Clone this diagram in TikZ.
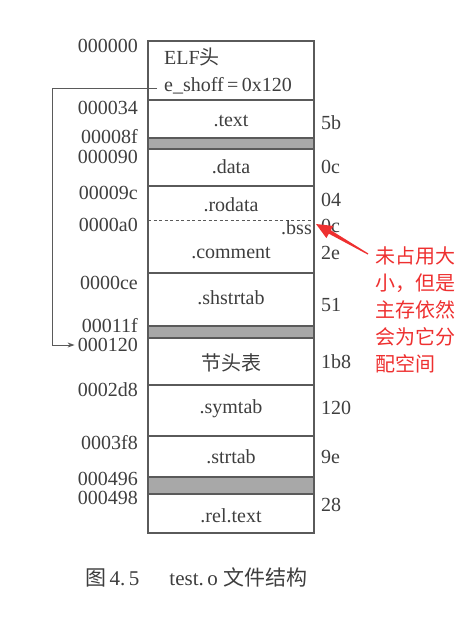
\documentclass[tikz,border=0pt]{standalone}
\usepackage{fontspec}
\setmainfont{Liberation Serif}
\newfontfamily\cjk{Noto Sans CJK SC}
\usetikzlibrary{arrows.meta,calc}
\definecolor{txt}{RGB}{62,62,62}
\definecolor{ln}{RGB}{90,90,90}
\definecolor{band}{RGB}{168,168,168}
\definecolor{note}{RGB}{238,48,48}
\begin{document}
\begin{tikzpicture}[x=1pt,y=-1pt,
  every node/.style={inner sep=0pt,text=txt,font=\fontsize{20}{24}\selectfont},
  addr/.style={anchor=east},
  size/.style={anchor=west},
  sect/.style={anchor=center},
  boxline/.style={draw=ln,line width=1.1pt},
  bandfill/.style={fill=band,draw=ln,line width=1.1pt},
  notetext/.style={text=note,anchor=west,font=\cjk\fontsize{20}{27}\selectfont,align=left}]
\useasboundingbox (0,0) rectangle (466,621);
% box
\draw[boxline] (148,41) rectangle (314,533);
\foreach \y in {100,186,273,385,436} \draw[boxline] (148,\y) -- (314,\y);
\draw[bandfill] (148,138) rectangle (314,149);
\draw[bandfill] (148,326) rectangle (314,338);
\draw[bandfill] (148,477) rectangle (314,494);
\draw[ln,line width=0.8pt,dash pattern=on 3pt off 2.5pt] (148,220) -- (314,220);
% section names
\node[anchor=west] (elf) at (164,57) {ELF{\cjk 头}};
\node[anchor=west] (eshoff) at (164,86) {e\_shoff\,=\,0x120};
\node[sect] (text) at (231,121) {.text};
\node[sect] (data) at (231,167) {.data};
\node[sect] (rodata) at (231,205) {.rodata};
\node[anchor=east] (bss) at (312,228) {.bss};
\node[sect] (comment) at (231,253) {.comment};
\node[sect] (shstrtab) at (231,298) {.shstrtab};
\node[sect] (sht) at (231,363) {\cjk 节头表};
\node[sect] (symtab) at (231,409) {.symtab};
\node[sect] (strtab) at (231,457) {.strtab};
\node[sect] (reltext) at (231,516) {.rel.text};
% addresses
\node[addr] (a000) at (138,46) {000000};
\node[addr] (a034) at (138,108) {000034};
\node[addr] (a08f) at (138,137) {00008f};
\node[addr] (a090) at (138,157) {000090};
\node[addr] (a09c) at (138,193) {00009c};
\node[addr] (a0a0) at (138,225) {0000a0};
\node[addr] (a0ce) at (138,283) {0000ce};
\node[addr] (a11f) at (138,326) {00011f};
\node[addr] (a120) at (138,345) {000120};
\node[addr] (a2d8) at (138,390) {0002d8};
\node[addr] (a3f8) at (138,443) {0003f8};
\node[addr] (a496) at (138,479) {000496};
\node[addr] (a498) at (138,498) {000498};
% sizes
\node[size] (s1) at (321,123) {5b};
\node[size] (s2) at (321,167) {0c};
\node[size] (s3) at (321,200) {04};
\node[size] (s4) at (321,226) {0c};
\node[size] (s5) at (321,253) {2e};
\node[size] (s6) at (321,305) {51};
\node[size] (s7) at (321,362) {1b8};
\node[size] (s8) at (321,408) {120};
\node[size] (s9) at (321,457) {9e};
\node[size] (s10) at (321,505) {28};
% e_shoff pointer
\coordinate (ptrstart) at ([xshift=-7pt]eshoff.west);
\coordinate (ptrcorner) at (52,88);
\draw[ln,line width=1pt,-{Stealth[length=7pt,width=5pt]}]
  (ptrstart |- ptrcorner) -- (ptrcorner) |- ([xshift=-3pt]a120.west);
% note
\node[notetext] (note) at (375,310) {未占用大\\小，但是\\主存依然\\会为它分\\配空间};
\coordinate (tail) at (368,254);
\coordinate (tip) at ([xshift=4pt,yshift=4pt]bss.east);
\coordinate (hb) at ($(tip)!16pt!(tail)$);
\fill[note] (tip) -- ($(hb)!7pt!90:(tail)$) -- ($(hb)!2pt!90:(tail)$)
  -- ($(tail)!0.6pt!-90:(hb)$) -- ($(tail)!0.6pt!90:(hb)$)
  -- ($(hb)!2pt!-90:(tail)$) -- ($(hb)!7pt!-90:(tail)$) -- cycle;
% caption
\node[anchor=west,font=\fontsize{21}{24}\selectfont] (cap) at (85,577) {{\cjk 图}\,4.\,5\hspace{30pt}test.\,o {\cjk 文件结构}};
\end{tikzpicture}
\end{document}
